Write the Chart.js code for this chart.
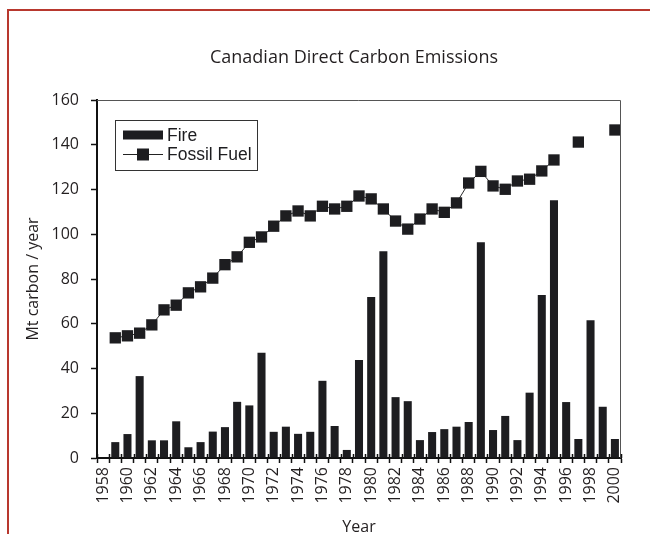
<!DOCTYPE html>
<html>
<head>
<meta charset="utf-8">
<title>Canadian Direct Carbon Emissions</title>
<script src="https://cdn.jsdelivr.net/npm/chart.js@4/dist/chart.umd.min.js"></script>
<style>
  html, body { margin: 0; padding: 0; background: #ffffff; }
  canvas { display: block; }
</style>
</head>
<body>
<canvas id="chart" width="650" height="534"></canvas>
<script>
// Years on the category axis
const years = ['1958','1959','1960','1961','1962','1963','1964','1965','1966','1967',
  '1968','1969','1970','1971','1972','1973','1974','1975','1976','1977',
  '1978','1979','1980','1981','1982','1983','1984','1985','1986','1987',
  '1988','1989','1990','1991','1992','1993','1994','1995','1996','1997',
  '1998','1999','2000'];

// Direct carbon from forest fires, Mt C / year
const fireEmissions = [null, 7.1, 10.7, 36.6, 7.9, 7.9, 16.4, 4.8, 7.1, 11.8,
  13.8, 25.1, 23.5, 47.0, 11.7, 14.0, 10.8, 11.7, 34.5, 14.3,
  3.6, 43.8, 72.0, 92.4, 27.2, 25.4, 8.0, 11.6, 12.9, 14.0,
  16.1, 96.4, 12.5, 18.8, 8.0, 29.2, 72.8, 115.2, 25.0, 8.5,
  61.6, 22.9, 8.5];

// Direct carbon from fossil fuel combustion, Mt C / year
const fossilFuelEmissions = [null, 53.7, 54.6, 55.8, 59.5, 66.2, 68.3, 73.8, 76.5, 80.4,
  86.4, 89.9, 96.4, 98.8, 103.6, 108.2, 110.4, 108.2, 112.5, 111.3,
  112.5, 117.1, 115.8, 111.3, 105.9, 102.3, 106.8, 111.3, 109.8, 114.0,
  122.9, 128.1, 121.6, 120.1, 123.8, 124.6, 128.3, 133.2, null, 141.2,
  null, null, 146.6];

// Value axis ticks
const yTicks = [0, 20, 40, 60, 80, 100, 120, 140, 160];

const chartTitle = 'Canadian Direct Carbon Emissions';
const INK = '#1d1d20';
const TEXT = '#231f20';

// Page frame, plot box, crossing ticks, title and boxed legend
const decorations = {
  id: 'decorations',
  beforeDraw(chart) {
    const ctx = chart.ctx;
    ctx.save();
    ctx.fillStyle = '#ffffff';
    ctx.fillRect(0, 0, chart.width, chart.height);
    ctx.restore();
  },
  afterDraw(chart) {
    const ctx = chart.ctx;
    const a = chart.chartArea;
    const xs = chart.scales.x;
    ctx.save();

    // red page frame
    ctx.strokeStyle = '#b8382e';
    ctx.lineWidth = 2;
    ctx.beginPath();
    ctx.moveTo(8, chart.height + 4);
    ctx.lineTo(8, 10);
    ctx.lineTo(chart.width + 4, 10);
    ctx.stroke();

    // top and right edges of the plot box
    ctx.strokeStyle = '#555555';
    ctx.lineWidth = 1;
    ctx.beginPath();
    ctx.moveTo(a.left, a.top + 0.5);
    ctx.lineTo(a.right - 0.5, a.top + 0.5);
    ctx.lineTo(a.right - 0.5, a.bottom);
    ctx.stroke();

    // category ticks also reach a little into the plot
    const half = (xs.getPixelForValue(1) - xs.getPixelForValue(0)) / 2;
    ctx.strokeStyle = '#111111';
    ctx.lineWidth = 1.5;
    ctx.beginPath();
    for (let i = 0; i <= years.length; i++) {
      const px = Math.round(xs.getPixelForValue(i) - half) + 0.5;
      ctx.moveTo(px, a.bottom);
      ctx.lineTo(px, a.bottom - 4);
    }
    ctx.stroke();

    // title
    ctx.fillStyle = TEXT;
    ctx.font = '18px "Open Sans"';
    ctx.textAlign = 'center';
    ctx.textBaseline = 'middle';
    ctx.fillText(chartTitle, (a.left + a.right) / 2 - 5, 58);

    // legend
    const bx = a.left + 18, by = a.top + 20, bw = 142, bh = 50;
    ctx.strokeStyle = '#333333';
    ctx.lineWidth = 1;
    ctx.strokeRect(bx + 0.5, by + 0.5, bw, bh);
    const fire = chart.data.datasets.find(d => d.type !== 'line');
    const fossil = chart.data.datasets.find(d => d.type === 'line');
    ctx.font = '17.5px "Liberation Sans"';
    ctx.textAlign = 'left';
    ctx.fillStyle = INK;
    const r1 = by + 15, r2 = by + 34;
    // Fire swatch
    ctx.fillRect(bx + 8, r1 - 4.5, 40, 9);
    ctx.fillText(fire.label, bx + 52, r1 + 1);
    // Fossil fuel line + square marker
    ctx.strokeStyle = '#222222';
    ctx.beginPath();
    ctx.moveTo(bx + 8, r2 + 0.5);
    ctx.lineTo(bx + 48, r2 + 0.5);
    ctx.stroke();
    ctx.fillRect(bx + 28 - 6, r2 - 5.5, 12, 12);
    ctx.fillText(fossil.label, bx + 52, r2 + 1);

    ctx.restore();
  }
};

new Chart(document.getElementById('chart'), {
  type: 'bar',
  data: {
    labels: years,
    datasets: [
      {
        label: 'Fire',
        data: fireEmissions,
        backgroundColor: INK,
        borderWidth: 0,
        barPercentage: 0.66,
        categoryPercentage: 1.0,
        order: 1
      },
      {
        type: 'line',
        label: 'Fossil Fuel',
        data: fossilFuelEmissions,
        borderColor: '#2a2a2a',
        borderWidth: 1,
        pointStyle: 'rect',
        pointRadius: 8,
        pointBackgroundColor: INK,
        pointBorderWidth: 0,
        spanGaps: false,
        order: 0
      }
    ]
  },
  options: {
    responsive: false,
    animation: false,
    layout: { padding: { top: 100, right: 29, bottom: 0, left: 0 } },
    plugins: {
      legend: { display: false },
      title: { display: false },
      tooltip: { enabled: false }
    },
    scales: {
      x: {
        afterFit(scale) { scale.height = 76; },
        border: { display: true, color: '#111111', width: 2 },
        grid: { display: true, drawOnChartArea: false, drawTicks: true, tickLength: 5,
                tickColor: '#111111', tickWidth: 1.5, offset: true },
        ticks: {
          autoSkip: false,
          minRotation: 90,
          maxRotation: 90,
          padding: 4,
          color: TEXT,
          font: { family: 'Open Sans', size: 16 },
          callback(value, index) { return index % 2 === 0 ? years[index] : ''; }
        },
        title: {
          display: true,
          text: 'Year',
          color: TEXT,
          font: { family: 'Open Sans', size: 16, lineHeight: 1 },
          padding: { top: 0, bottom: -1 }
        }
      },
      y: {
        min: 0,
        max: 160,
        afterFit(scale) { scale.width = 97; },
        afterBuildTicks(scale) { scale.ticks = yTicks.map(v => ({ value: v })); },
        border: { display: true, color: '#111111', width: 2 },
        grid: { display: true, drawOnChartArea: false, drawTicks: true, tickLength: 6,
                tickColor: '#111111', tickWidth: 1.5 },
        ticks: {
          padding: 12,
          color: TEXT,
          font: { family: 'Open Sans', size: 16 }
        },
        title: {
          display: true,
          text: 'Mt carbon / year',
          color: TEXT,
          font: { family: 'Open Sans', size: 16, lineHeight: 1 },
          padding: { top: 25, bottom: 0 }
        }
      }
    }
  },
  plugins: [decorations]
});
</script>
</body>
</html>
